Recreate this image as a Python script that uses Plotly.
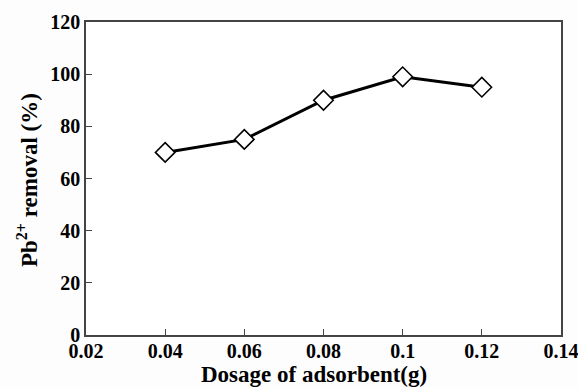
import plotly.graph_objects as go

# Adsorbent dosage (g) vs Pb2+ removal (%)
dosage = [0.04, 0.06, 0.08, 0.10, 0.12]
removal = [70, 75, 90, 99, 95]

x_ticks = [0.02, 0.04, 0.06, 0.08, 0.10, 0.12, 0.14]
x_tick_text = ["0.02", "0.04", "0.06", "0.08", "0.1", "0.12", "0.14"]
y_ticks = [0, 20, 40, 60, 80, 100, 120]
y_tick_text = ["0", "20", "40", "60", "80", "100", "120"]

x_title = "Dosage of adsorbent(g)"
y_title = "Pb<sup>2+</sup> removal (%)"

font_family = "Liberation Serif"

fig = go.Figure(
    go.Scatter(
        x=dosage,
        y=removal,
        mode="lines+markers",
        line=dict(color="black", width=3),
        marker=dict(symbol="diamond", size=15, color="white",
                    line=dict(color="black", width=1.6)),
        showlegend=False,
    )
)

fig.update_layout(
    width=578,
    height=387,
    margin=dict(l=86, r=17, t=22, b=52),
    paper_bgcolor="#fdfdfd",
    plot_bgcolor="white",
    font=dict(family=font_family, color="black", size=20),
)

axis_common = dict(
    ticks="inside",
    ticklen=6,
    tickwidth=1,
    tickcolor="#444",
    showline=True,
    linecolor="#444",
    linewidth=1.5,
    mirror=True,
    showgrid=False,
    zeroline=False,
    automargin=False,
    ticklabeloverflow="allow",
    tickfont=dict(family=font_family, size=20, color="black", weight="bold"),
)

fig.update_xaxes(
    range=[0.02, 0.14],
    tickvals=x_ticks,
    ticktext=[f"<b>{t}</b>" for t in x_tick_text],
    ticklabelstandoff=-3,
    **axis_common,
)

fig.update_yaxes(
    range=[0, 120],
    tickvals=y_ticks,
    ticktext=[f"<b>{t}</b>" for t in y_tick_text],
    **axis_common,
)

# Axis titles placed as annotations
fig.add_annotation(
    text=f"<b>{x_title}</b>", xref="paper", yref="paper",
    x=0.48, y=0, xanchor="center", yanchor="middle", yshift=-39,
    showarrow=False, font=dict(family=font_family, size=23, color="black"),
)
fig.add_annotation(
    text=f"<b>{y_title}</b>", xref="paper", yref="paper",
    x=0, y=0.495, xanchor="center", yanchor="middle", xshift=-59,
    textangle=-90, showarrow=False,
    font=dict(family=font_family, size=23, color="black"),
)

fig.write_html("out.html")
